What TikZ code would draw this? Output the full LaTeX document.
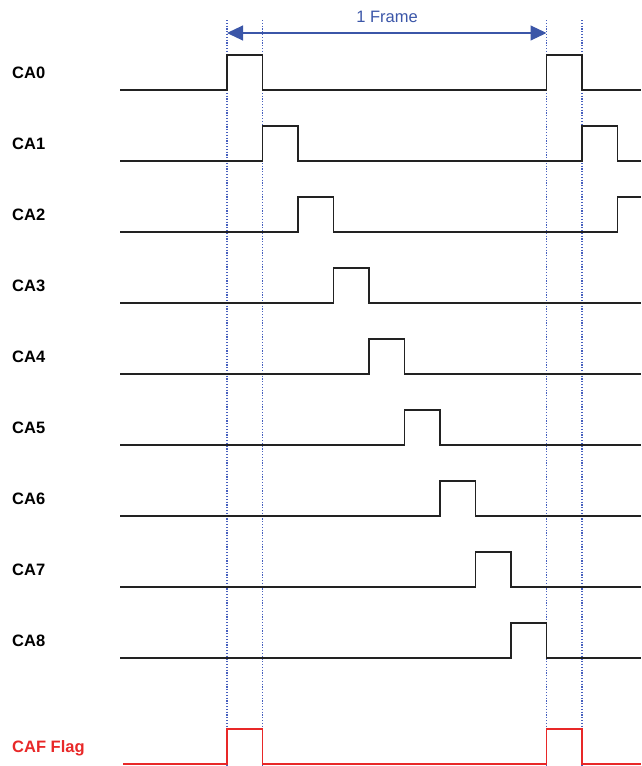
\documentclass[tikz,border=0pt]{standalone}
\usepackage{fontspec}
\setmainfont{Liberation Sans}
\usetikzlibrary{arrows.meta}
\definecolor{sig}{RGB}{34,34,34}
\definecolor{flag}{RGB}{232,40,40}
\definecolor{guide}{RGB}{70,95,190}
\definecolor{frame}{RGB}{59,86,168}
\tikzset{
  sigline/.style={draw=sig, line width=1.6pt},
  flagline/.style={draw=flag, line width=1.6pt},
  guideline/.style={draw=guide, line width=1.1pt, dash pattern=on 1.2pt off 1.6pt},
  framearrow/.style={draw=frame, line width=1.1pt, {Triangle[length=16pt,width=15pt]}-{Triangle[length=16pt,width=15pt]}},
  siglabel/.style={anchor=base west, inner sep=0pt, font=\fontsize{16.5}{19}\selectfont\bfseries},
  framelabel/.style={anchor=base, inner sep=0pt, text=frame, font=\fontsize{16.5}{19}\selectfont}
}
\begin{document}
\begin{tikzpicture}[x=1pt,y=-1pt]
\useasboundingbox (0,0) rectangle (641,766);
% guides
\foreach \gx [count=\i] in {227,262.5,546.5,582}{
  \coordinate (gt\i) at (\gx,20);
  \coordinate (gb\i) at (\gx,766);
  \draw[guideline] (gt\i) -- (gb\i);
}
% frame arrow
\coordinate (fa) at (227,33);
\coordinate (fb) at (546.5,33);
\draw[framearrow] (fa) -- (fb);
\node[framelabel] (frm) at (387,22.5) {1 Frame};
% signals
\foreach \k in {0,...,8}{
  \pgfmathsetmacro{\y}{90+71*\k}
  \pgfmathsetmacro{\s}{227+35.5*\k}
  \pgfmathsetmacro{\e}{\s+35.5}
  \pgfmathsetmacro{\h}{\y-35}
  \node[siglabel] (l\k) at (12,\y-12) {CA\k};
  \ifnum\k<2
    \pgfmathsetmacro{\ss}{\s+319.5}
    \pgfmathsetmacro{\ee}{\ss+35.5}
    \draw[sigline] (120,\y) -- (\s,\y) -- (\s,\h) -- (\e,\h) -- (\e,\y) -- (\ss,\y) -- (\ss,\h) -- (\ee,\h) -- (\ee,\y) -- (641,\y);
  \else\ifnum\k=2
    \pgfmathsetmacro{\ss}{\s+319.5}
    \draw[sigline] (120,\y) -- (\s,\y) -- (\s,\h) -- (\e,\h) -- (\e,\y) -- (\ss,\y) -- (\ss,\h) -- (641,\h);
  \else
    \draw[sigline] (120,\y) -- (\s,\y) -- (\s,\h) -- (\e,\h) -- (\e,\y) -- (641,\y);
  \fi\fi
}
% flag
\node[siglabel, text=flag] (lf) at (12,752) {CAF Flag};
\draw[flagline] (123,764) -- (227,764) -- (227,729) -- (262.5,729) -- (262.5,764) -- (546.5,764) -- (546.5,729) -- (582,729) -- (582,764) -- (641,764);
\end{tikzpicture}
\end{document}
